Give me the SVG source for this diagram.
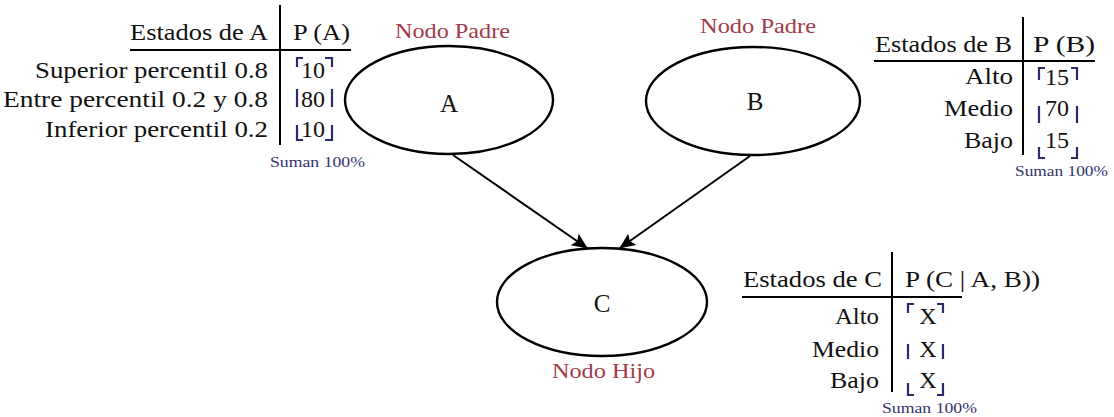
<svg xmlns="http://www.w3.org/2000/svg" width="1114" height="417" viewBox="0 0 1114 417">
<style>
text{font-family:"Liberation Serif","Times New Roman",serif;fill:#111}
.t{font-size:24px}
.r{text-anchor:end}
.m{text-anchor:middle}
.lbl{font-size:22px;fill:#a03a48}
.sum{font-size:15px;fill:#33336e}
.node{fill:#fff;stroke:#000;stroke-width:2.4}
.rule{stroke:#000;stroke-width:2;fill:none}
.br{stroke:#2b2a6b;stroke-width:2.2;fill:none}
.edge{stroke:#000;stroke-width:2;fill:none}
</style>
<defs>
<marker id="ah" markerWidth="16" markerHeight="14" refX="15" refY="7" orient="auto" markerUnits="userSpaceOnUse">
<path d="M0,0 L16,7 L0,14 L3,7 Z" fill="#000"/>
</marker>
</defs>
<g id="connectors">
<line class="edge" x1="453" y1="155" x2="587" y2="248" marker-end="url(#ah)"/>
<line class="edge" x1="750" y1="156" x2="620" y2="248" marker-end="url(#ah)"/>
</g>
<g id="nodeA">
<ellipse class="node" cx="449" cy="100" rx="104" ry="54"/>
<text class="t m" x="449" y="112" style="font-size:25px">A</text>
<text class="lbl" x="395" y="38" textLength="115" lengthAdjust="spacingAndGlyphs">Nodo Padre</text>
</g>
<g id="nodeB">
<ellipse class="node" cx="753" cy="101" rx="107" ry="54"/>
<text class="t m" x="755" y="110" style="font-size:25px">B</text>
<text class="lbl" x="700" y="33" textLength="116" lengthAdjust="spacingAndGlyphs">Nodo Padre</text>
</g>
<g id="nodeC">
<ellipse class="node" cx="602" cy="302" rx="105" ry="54"/>
<text class="t m" x="602" y="312" style="font-size:25px">C</text>
<text class="lbl" x="552" y="378" textLength="103" lengthAdjust="spacingAndGlyphs">Nodo Hijo</text>
</g>
<g id="tableA">
<line class="rule" x1="280" y1="5" x2="280" y2="145"/>
<line class="rule" x1="130" y1="50" x2="351" y2="50"/>
<text class="t" x="130" y="40" textLength="138" lengthAdjust="spacingAndGlyphs">Estados de A</text>
<text class="t" x="293" y="40" textLength="57" lengthAdjust="spacingAndGlyphs">P (A)</text>
<text class="t" x="35" y="78" textLength="233" lengthAdjust="spacingAndGlyphs">Superior percentil 0.8</text>
<text class="t" x="3" y="107" textLength="265" lengthAdjust="spacingAndGlyphs">Entre percentil 0.2 y 0.8</text>
<text class="t" x="45" y="137" textLength="223" lengthAdjust="spacingAndGlyphs">Inferior percentil 0.2</text>
<text class="t m" x="313" y="78">10</text>
<text class="t m" x="313" y="107">80</text>
<text class="t m" x="313" y="137">10</text>
<path class="br" d="M303,58 H297 V67 M297,89 V107 M297,125 V140 H303 M325,58 H332 V67 M332,89 V107 M332,125 V140 H325"/>
<text class="sum" x="270" y="167" textLength="95" lengthAdjust="spacingAndGlyphs">Suman 100%</text>
</g>
<g id="tableB">
<line class="rule" x1="1023" y1="17" x2="1023" y2="155"/>
<line class="rule" x1="874" y1="61" x2="1095" y2="61"/>
<text class="t" x="875" y="52" textLength="137" lengthAdjust="spacingAndGlyphs">Estados de B</text>
<text class="t" x="1033" y="52" textLength="62" lengthAdjust="spacingAndGlyphs">P (B)</text>
<text class="t" x="965" y="84" textLength="48" lengthAdjust="spacingAndGlyphs">Alto</text>
<text class="t" x="944" y="116" textLength="69" lengthAdjust="spacingAndGlyphs">Medio</text>
<text class="t" x="964" y="148" textLength="49" lengthAdjust="spacingAndGlyphs">Bajo</text>
<text class="t m" x="1057" y="85">15</text>
<text class="t m" x="1057" y="116">70</text>
<text class="t m" x="1057" y="148">15</text>
<path class="br" d="M1045,68 H1039 V80 M1039,106 V123 M1039,147 V158 H1045 M1071,68 H1077 V80 M1077,106 V123 M1077,147 V158 H1071"/>
<text class="sum" x="1015" y="176" textLength="93" lengthAdjust="spacingAndGlyphs">Suman 100%</text>
</g>
<g id="tableC">
<line class="rule" x1="892" y1="252" x2="892" y2="392"/>
<line class="rule" x1="742" y1="297" x2="962" y2="297"/>
<text class="t" x="743" y="287" textLength="139" lengthAdjust="spacingAndGlyphs">Estados de C</text>
<text class="t" x="905" y="287" textLength="135" lengthAdjust="spacingAndGlyphs">P (C | A, B))</text>
<text class="t" x="835" y="324" textLength="44" lengthAdjust="spacingAndGlyphs">Alto</text>
<text class="t" x="812" y="357" textLength="67" lengthAdjust="spacingAndGlyphs">Medio</text>
<text class="t" x="830" y="388" textLength="49" lengthAdjust="spacingAndGlyphs">Bajo</text>
<text class="t m" x="928" y="324">X</text>
<text class="t m" x="928" y="357">X</text>
<text class="t m" x="928" y="388">X</text>
<path class="br" d="M914,304 H908 V313 M908,344 V359 M908,383 V395 H914 M937,304 H943 V313 M943,344 V359 M943,383 V395 H937"/>
<text class="sum" x="882" y="413" textLength="95" lengthAdjust="spacingAndGlyphs">Suman 100%</text>
</g>
</svg>
